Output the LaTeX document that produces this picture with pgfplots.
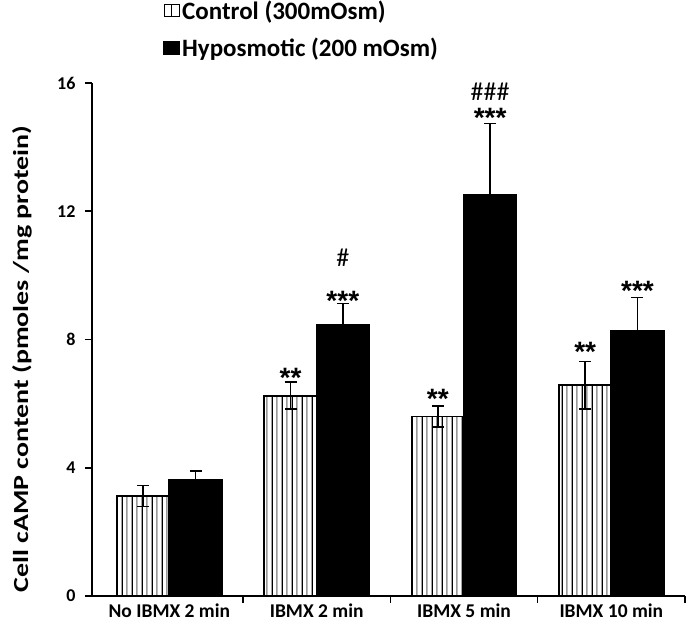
\documentclass[border=0pt]{standalone}
\usepackage{pgfplots}
\pgfplotsset{compat=1.18}
\usepackage{graphicx}
\usepackage{fontspec}
\setmainfont{Carlito}
\newfontfamily\arialfont{Liberation Sans}
\usetikzlibrary{patterns,calc}
\pgfdeclarepatterninherentlycolored{bwstripes}{\pgfpointorigin}{\pgfqpoint{10pt}{10pt}}{\pgfqpoint{10pt}{10pt}}{%
  \pgfsetlinewidth{1.3pt}%
  \pgfsetstrokecolor{black}%
  \pgfpathmoveto{\pgfqpoint{2.5pt}{-1pt}}\pgfpathlineto{\pgfqpoint{2.5pt}{11pt}}\pgfusepath{stroke}%
  \pgfsetlinewidth{1.8pt}%
  \pgfsetstrokecolor{black!40}%
  \pgfpathmoveto{\pgfqpoint{7.5pt}{-1pt}}\pgfpathlineto{\pgfqpoint{7.5pt}{11pt}}\pgfusepath{stroke}%
}
\pgfplotstableread{
x y e
0 3.12 0.33
1 6.25 0.42
2 5.60 0.32
3 6.58 0.74
}\control
\pgfplotstableread{
x y e
0 3.62 0.28
1 8.47 0.65
2 12.52 2.22
3 8.28 1.03
}\hypo
\begin{document}
\begin{tikzpicture}
\begin{axis}[
  width=593pt, height=513pt, scale only axis,
  ybar, bar width=0.355,
  xmin=-0.525, xmax=3.5,
  ymin=0, ymax=16,
  axis lines=left,
  axis line style={line width=2.2pt, -},
  ytick={0,4,8,12,16},
  xtick={0.5,1.5,2.5,3.5},
  xticklabels={},
  extra x ticks={0,1,2,3},
  extra x tick labels={No IBMX 2 min, IBMX 2 min, IBMX 5 min, IBMX 10 min},
  extra x tick style={major tick length=0pt, tick label style={font=\bfseries\fontsize{19.5}{21}\selectfont, yshift=-4pt}},
  tick style={line width=1.6pt, black},
  major tick length=7pt,
  tick align=outside,
  yticklabel style={font=\bfseries\fontsize{18}{20}\selectfont, xshift=-6pt},
  /pgf/number format/assume math mode=true,
  ylabel={\scalebox{1.3}[1]{Cell cAMP content (pmoles /mg protein)}},
  ylabel style={font=\bfseries\fontsize{21.5}{23}\selectfont, at={(axis description cs:-0.118,0.462)}, anchor=center},
  legend style={draw=none, at={(0.12,1.165)}, anchor=north west, font=\bfseries\fontsize{25}{27}\selectfont, row sep=13pt, cells={anchor=west}, inner sep=0pt, fill=none},
  clip=false,
]
\addplot[draw=black, line width=1.8pt, pattern=bwstripes, bar shift=-0.1775,
  legend image code/.code={\draw[black, line width=1.4pt, fill=white] (0pt,-6pt) rectangle (15pt,6pt); \draw[black, line width=1.4pt] (7.5pt,-6pt) -- (7.5pt,6pt);},
  error bars/.cd, y dir=both, y explicit, error bar style={line width=1.6pt, black}, error mark options={line width=1.6pt, mark size=6pt, rotate=90}]
  table[x=x, y=y, y error=e]{\control};
\addplot[draw=black, line width=1.8pt, fill=black, bar shift=0.1775,
  legend image code/.code={\fill[black] (0pt,-6pt) rectangle (15pt,6pt);},
  error bars/.cd, y dir=plus, y explicit, error bar style={line width=1.6pt, black}, error mark options={line width=1.6pt, mark size=6pt, rotate=90}]
  table[x=x, y=y, y error=e]{\hypo};
\legend{Control (300mOsm), Hyposmotic (200 mOsm)}
\begin{scope}[every node/.style={font=\arialfont\bfseries\fontsize{28}{28}\selectfont}]
\node at (axis cs:0.8225,6.8) {**};
\node at (axis cs:1.1775,9.2) {***};
\node at (axis cs:1.8225,6.15) {**};
\node at (axis cs:2.1775,14.9) {***};
\node at (axis cs:2.8225,7.62) {**};
\node at (axis cs:3.1775,9.52) {***};
\end{scope}
\node[font=\fontsize{26}{26}\selectfont] at (axis cs:1.1775,10.55) {\#};
\node[font=\fontsize{26}{26}\selectfont] at (axis cs:2.1775,15.72) {\#\#\#};
\end{axis}
\pgfresetboundingbox
\path[use as bounding box] ($(current axis.south west)+(-92pt,-36pt)$) rectangle ($(current axis.north east)+(5pt,83pt)$);
\end{tikzpicture}
\end{document}
